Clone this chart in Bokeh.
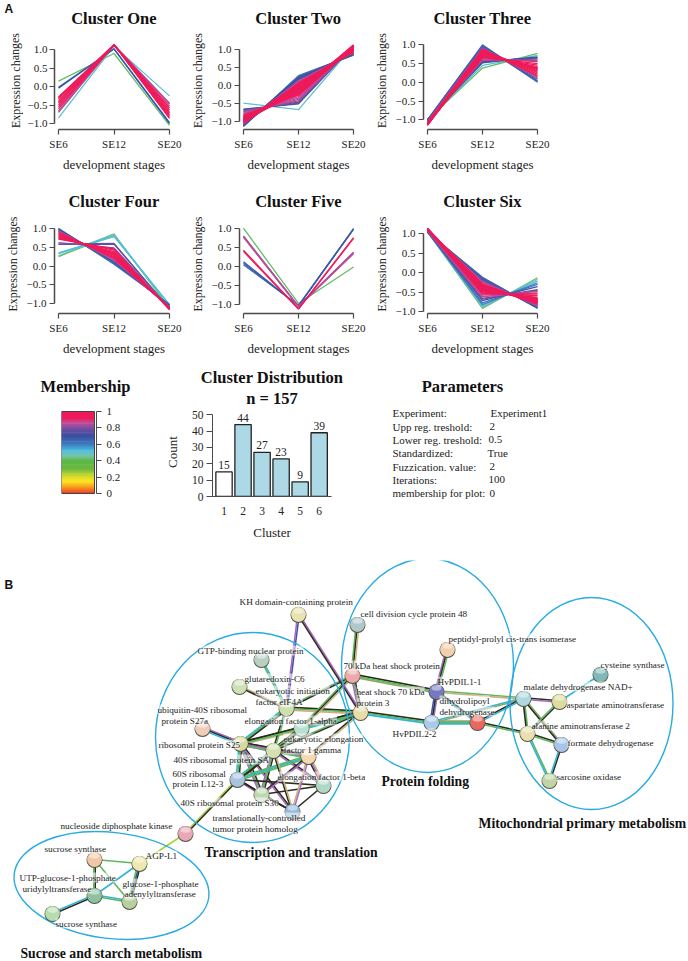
from bokeh.plotting import figure
from bokeh.layouts import column, row
from bokeh.models import (Range1d, FixedTicker, LinearAxis, Label, LabelSet, ColumnDataSource, Title)
from bokeh.embed import file_html
from bokeh.resources import INLINE
from bokeh.core.properties import value
import math

SERIF = "Liberation Serif"
SANS = "Liberation Sans"

stages = ["SE6", "SE12", "SE20"]
y_ticks = [-1.0, -0.5, 0.0, 0.5, 1.0]
y_tick_labels = ["\u22121.0", "\u22120.5", "0.0", "0.5", "1.0"]

# membership, SE6, SE12, SE20
cluster_one = [
 (.42,.15,.90,-1.05),(.50,-.85,1.10,-.25),(.66,-.02,1.02,-1.00),(.68,-.04,1.03,-.98),(.82,-.70,1.13,-.45),
 (.86,-.66,1.13,-.47),(.90,-.60,1.13,-.53),(.92,-.55,1.13,-.58),(.95,-.50,1.13,-.63),(.97,-.45,1.14,-.68),
 (.98,-.42,1.14,-.72),(.99,-.38,1.14,-.76),(.99,-.33,1.14,-.80),(.96,-.30,1.14,-.84),(.93,-.28,1.14,-.86)]
cluster_two = [
 (.50,-.48,-.66,1.12),(.62,-1.13,.28,.85),(.64,-1.12,.26,.86),(.66,-1.11,.24,.87),(.68,-1.10,.22,.88),
 (.70,-1.09,.20,.89),(.72,-1.08,.18,.90),(.70,-.65,-.50,1.12),(.75,-.66,-.48,1.12),(.78,-.70,-.45,1.13),
 (.80,-1.07,.15,.92),(.82,-.72,-.42,1.12),(.84,-.75,-.38,1.12),(.85,-1.05,.12,.93),(.86,-.78,-.34,1.12),
 (.87,-1.04,.10,.94),(.88,-.80,-.30,1.10),(.89,-1.03,.08,.95),(.90,-.82,-.26,1.08),(.91,-.84,-.22,1.06),
 (.92,-1.02,.05,.97),(.93,-.85,-.19,1.04),(.94,-.87,-.17,1.04),(.95,-1.01,.02,.99),(.95,-.88,-.15,1.03),
 (.96,-.89,-.13,1.02),(.96,-1.00,.00,1.00),(.97,-.90,-.12,1.02),(.97,-.99,-.02,1.01),(.97,-.91,-.10,1.01),
 (.98,-.92,-.09,1.01),(.98,-.97,-.04,1.01),(.98,-.93,-.08,1.01),(.98,-.96,-.05,1.01),(.99,-.94,-.07,1.01),
 (.99,-.95,-.06,1.01),(.94,-1.00,.06,.94),(.93,-.83,-.24,1.07),(.96,-1.02,-.01,1.03),(.97,-.98,-.16,1.14),
 (.98,-.94,-.18,1.12),(.99,-1.03,-.03,1.06),(.99,-1.00,-.10,1.10),(.99,-.96,-.14,1.10)]
cluster_three = [
 (.42,-1.00,.38,.77),(.50,-1.00,.45,.72),(.62,-1.00,1.00,.00),(.64,-1.00,.98,.02),(.66,-1.01,.96,.04),
 (.68,-1.00,.52,.68),(.70,-1.02,.54,.66),(.72,-1.01,.56,.65),(.75,-1.03,.93,.08),(.78,-1.04,.58,.62),
 (.82,-1.05,.91,.12),(.85,-1.05,.60,.58),(.88,-1.06,.90,.15),(.90,-1.07,.63,.55),(.92,-1.08,.88,.18),
 (.93,-1.08,.66,.50),(.94,-1.09,.86,.22),(.95,-1.10,.68,.46),(.96,-1.10,.84,.26),(.96,-1.11,.70,.42),
 (.97,-1.12,.82,.30),(.97,-1.12,.72,.38),(.98,-1.13,.80,.34),(.98,-1.13,.74,.38),(.99,-1.14,.78,.36),
 (.99,-1.14,.76,.38),(.99,-1.15,.85,.30)]
cluster_four = [
 (.42,.25,.83,-1.10),(.45,.27,.85,-1.12),(.50,.33,.78,-1.03),(.52,.35,.80,-1.02),(.75,.57,.58,-1.12),
 (.78,.58,.60,-1.14),(.80,.62,.48,-1.10),(.62,1.00,.05,-1.02),(.64,.98,.07,-1.03),(.66,.97,.10,-1.04),
 (.70,.96,.12,-1.06),(.85,.93,.15,-1.08),(.88,.92,.18,-1.09),(.90,.90,.20,-1.10),(.92,.88,.22,-1.10),
 (.94,.86,.25,-1.11),(.95,.84,.28,-1.12),(.96,.82,.30,-1.12),(.97,.80,.33,-1.13),(.98,.78,.35,-1.13),
 (.98,.75,.38,-1.13),(.99,.73,.42,-1.15),(.99,.71,.45,-1.16)]
cluster_five = [
 (.42,1.00,-.98,-.02),(.82,.80,-1.05,.37),(.84,.78,-1.06,.35),(.86,.76,-1.07,.33),(.98,.42,-1.12,.75),
 (.99,.39,-1.13,.73),(.68,.12,-1.05,.98),(.66,.08,-1.04,.97),(.64,.04,-1.03,.99)]
cluster_six = [
 (.42,1.05,-.92,-.13),(.48,1.05,-.88,-.17),(.52,1.06,-.85,-.21),(.60,1.05,-.82,-.26),(.62,1.05,-.78,-.30),
 (.64,1.04,-.12,-.92),(.65,1.04,-.14,-.91),(.66,1.05,-.16,-.90),(.68,1.05,-.18,-.89),(.72,1.06,-.72,-.36),
 (.74,1.06,-.68,-.44),(.78,1.07,-.20,-.87),(.80,1.07,-.66,-.46),(.82,1.08,-.23,-.85),(.85,1.08,-.62,-.48),
 (.86,1.09,-.25,-.84),(.88,1.09,-.58,-.52),(.90,1.10,-.28,-.82),(.90,1.10,-.55,-.54),(.91,1.10,-.30,-.80),
 (.92,1.11,-.53,-.58),(.93,1.11,-.32,-.78),(.94,1.11,-.50,-.60),(.95,1.12,-.34,-.77),(.95,1.12,-.48,-.64),
 (.96,1.12,-.36,-.76),(.96,1.12,-.46,-.66),(.97,1.12,-.38,-.74),(.97,1.13,-.44,-.68),(.97,1.13,-.40,-.73),
 (.98,1.13,-.42,-.71),(.98,1.13,-.41,-.72),(.98,1.13,-.39,-.74),(.98,1.13,-.37,-.76),(.99,1.13,-.35,-.78),
 (.99,1.13,-.45,-.68),(.99,1.13,-.43,-.70),(.99,1.14,-.33,-.81),(.99,1.14,-.47,-.67)]

cluster_names = ["Cluster One", "Cluster Two", "Cluster Three", "Cluster Four", "Cluster Five", "Cluster Six"]
cluster_ids = [1, 2, 3, 4, 5, 6]
cluster_counts = [15, 44, 27, 23, 9, 39]

colormap_stops = [0, .07, .15, .22, .3, .4, .46, .52, .6, .7, .78, .86, .92, 1]
colormap_cols = ["#ee3024", "#f7941e", "#ffe620", "#c8d830", "#6cb83f", "#5ab848", "#7cc4a8", "#4cc0e0",
                 "#3d7cc0", "#3b4fa0", "#6b4ea0", "#c04e9a", "#ee1a5a", "#ee1a5a"]
membership_ticks = [0, .2, .4, .6, .8, 1]
membership_labels = ["0", "0.2", "0.4", "0.6", "0.8", "1"]

param_names = ["Experiment:", "Upp reg. treshold:", "Lower reg. treshold:", "Standardized:",
               "Fuzzication. value:", "Iterations:", "membership for plot:"]
param_values = ["Experiment1", "2", "0.5", "True", "2", "100", "0"]

node_names = ["KH","CDC","GTP","GRX","HSP70","HSP3","EIF","S27","S25","EF1A","SA","EF1G","L12","S30","EF1B","TCTP",
              "NDK","AGP","SS1","UTP","GPA","SS2","PPI","PDI1","PDI2","DLD","MDH","AST","CYS","ALT","FDH","SOX"]
node_x = [298,357,261,239,352,360,286,202,240,301,273,308,237,261,323,292,185,139,94,94,129,52,447,436,431,477,523,559,600,527,561,549]
node_y = [614,624,659,686,675,712,708,728,743,728,750,756,779,794,785,811,833,863,859,895,901,913,649,691,722,722,698,701,674,733,744,780]
node_colors = ["#e8e3b0","#b0c8cc","#b8d0c0","#cfe0b8","#eeaaaa","#e8dca8","#cfe0b0","#f0cdb8","#d8d8a0","#b8e0d0","#d4e0b0","#f4d8b0",
               "#a8c4e0","#c0d8b0","#b0d8c8","#90b8d8","#e8a8b8","#ece8b0","#f0c8a8","#8fc0a0","#b8d0a0","#b8dcb0","#f0d0b0","#7878c0",
               "#a8cce8","#e86860","#b0d8e0","#dcdca0","#80b8b8","#e8e0b0","#a8c4e8","#c0d4a8"]
edges = [("S27","S25","pkc"),("S25","EIF","cgk"),("S25","EF1A","kgt"),("S25","SA","kgp"),("S25","EF1G","kpg"),("S25","L12","kgc"),
 ("S25","S30","kgp"),("S25","TCTP","kp"),("SA","EF1A","kgp"),("SA","L12","kgc"),("SA","S30","kgp"),("SA","EIF","kg"),("SA","EF1G","kpg"),
 ("SA","EF1B","kp"),("L12","EF1G","gcg"),("L12","EF1A","gk"),("L12","S30","kp"),("L12","EF1B","k"),("L12","TCTP","k"),("S30","TCTP","k"),
 ("S30","EF1G","kp"),("S30","EF1B","k"),("EF1B","EF1G","kpt"),("EF1G","TCTP","pt"),("EF1B","TCTP","k"),("TCTP","SA","kt"),("GRX","EIF","tk"),
 ("GTP","EIF","cg"),("EIF","HSP3","kgt"),("EF1A","HSP3","kgc"),("EIF","HSP70","gk"),("EF1A","HSP70","gkt"),("S25","HSP3","kg"),("EF1G","HSP3","kt"),
 ("SA","HSP3","gk"),("KH","EIF","bp"),("KH","HSP3","pk"),("HSP70","HSP3","kgp"),("HSP70","CDC","gkt"),("HSP70","PDI1","kgo"),("HSP3","PDI2","kgc"),
 ("PDI1","PDI2","pkb"),("PDI1","PPI","pkg"),("PDI2","DLD","ogc"),("PDI1","DLD","kc"),("PDI1","MDH","gt"),("PDI2","MDH","co"),("DLD","ALT","kg"),
 ("DLD","MDH","kc"),("MDH","AST","kp"),("MDH","ALT","gk"),("MDH","FDH","ok"),("AST","ALT","kg"),("AST","CYS","c"),("ALT","FDH","kg"),
 ("ALT","SOX","gc"),("FDH","SOX","kc"),("SS1","AGP","g"),("SS1","UTP","kg"),("SS1","GPA","g"),("AGP","UTP","c"),("AGP","GPA","kbg"),
 ("UTP","GPA","cg"),("UTP","SS2","kc"),("NDK","L12","yk"),("NDK","AGP","y")]
edge_cols = {"k":"#2b2b1e","g":"#5cb85c","p":"#a868c0","c":"#35b4d8","t":"#c8b080","o":"#88aa66","b":"#3a55b0","y":"#a8d040"}

label_text = ["KH domain-containing protein","GTP-binding nuclear protein","glutaredoxin-C6","eukaryotic initiation","factor eIF4A",
 "ubiquitin-40S ribosomal","protein S27a","elongation factor 1-alpha","eukaryotic elongation","factor 1 gamma","ribosomal protein S25",
 "40S ribosomal protein SA","60S ribosomal","protein L12-3","elongation factor 1-beta","40S ribosomal protein S30","translationally-controlled",
 "tumor protein homolog","nucleoside diphosphate kinase","AGP-L1","sucrose synthase","UTP-glucose-1-phosphate","uridylyltransferase",
 "glucose-1-phosphate","adenylyltransferase","sucrose synthase","cell division cycle protein 48","peptidyl-prolyl cis-trans isomerase",
 "70 kDa heat shock protein","HvPDIL1-1","heat shock 70 kDa","protein 3","dihydrolipoyl","dehydrogenase","HvPDIL2-2","malate dehydrogenase NAD+",
 "cysteine synthase","aspartate aminotransferase","alanine aminotransferase 2","formate dehydrogenase","sarcosine oxidase"]
label_x = [239,197,244,255,255,157,161,244,283,283,158,173,172,172,277,180,212,212,60,145,44,19,22,122,124,55,360,448,343,437,356,356,439,439,392,523,600,566,531,567,556]
label_y = [601,650,678,690,701,709,720,720,738,749,744,759,773,783,776,802,817,828,825,855,848,877,888,883,893,923,613,638,665,681,691,702,700,711,733,686,664,704,725,742,776]

group_text = ["Transcription and translation","Protein folding","Mitochondrial primary metabolism","Sucrose and starch metabolism"]
group_x = [204,381,478,20]
group_y = [852,781,823,953]

ell_x = [252,427,591,111]
ell_y = [737,665,703,885]
ell_w = [194,172,163,196]
ell_h = [210,214,212,106]
ell_rot = [0,0,0,-0.12]


def hex2rgb(h):
    return tuple(int(h[i:i + 2], 16) for i in (1, 3, 5))


def cmap(v):
    v = max(0, min(1, v))
    for i in range(len(colormap_stops) - 1):
        a, b = colormap_stops[i], colormap_stops[i + 1]
        if v <= b:
            t = (v - a) / (b - a)
            ca, cb = hex2rgb(colormap_cols[i]), hex2rgb(colormap_cols[i + 1])
            return "#%02x%02x%02x" % tuple(round(ca[k] + (cb[k] - ca[k]) * t) for k in range(3))
    return colormap_cols[-1]


def mk(width, height, left, right, top, bottom, xr, yr):
    p = figure(width=width, height=height, output_backend="svg", toolbar_location=None,
               x_range=Range1d(*xr), y_range=Range1d(*yr), min_border_left=left, min_border_right=right,
               min_border_top=top, min_border_bottom=bottom, outline_line_color=None,
               background_fill_color="white", border_fill_color="white")
    p.grid.visible = False
    return p


def style(ax):
    ax.axis_line_color = "#4a4a4a"
    ax.major_tick_line_color = "#4a4a4a"
    ax.minor_tick_line_color = None
    ax.axis_line_width = 1.5
    ax.major_tick_line_width = 1.2
    ax.major_tick_in = 0
    ax.major_tick_out = 5
    ax.major_label_text_font = SERIF
    ax.major_label_text_color = "#222222"
    ax.axis_label_text_font = SERIF
    ax.axis_label_text_font_style = "normal"
    ax.axis_label_text_color = "#222222"


def head(t, text, font=SERIF, size="16.5px"):
    t.text = text
    t.text_font = font
    t.text_font_size = size
    t.text_font_style = "bold"
    t.text_color = "#111111"


def cluster_panel(rows, name, width, left, right, top_ref, bottom_ref, y1, ym1, box_top, box_bottom, ylabel=True):
    xscale = 55.5
    ys = (ym1 - y1) / 2
    xr = (1 - 4 / xscale, 3 + 4 / xscale)
    yr = (-1 - (bottom_ref - ym1) / ys, 1 + (y1 - top_ref) / ys)
    p = mk(width, box_bottom - box_top, left, right, top_ref - box_top, box_bottom - bottom_ref, xr, yr)
    for m, a, b, c in sorted(rows, key=lambda r: r[0]):
        p.line([1, 2, 3], [a, b, c], line_color=cmap(m), line_width=1.3)
    head(p.title, name)
    p.title.align = "center"
    p.title.standoff = 8
    xa, ya = p.xaxis[0], p.yaxis[0]
    style(xa); style(ya)
    xa.ticker = FixedTicker(ticks=[1, 2, 3])
    xa.major_label_overrides = {i + 1: s for i, s in enumerate(stages)}
    xa.bounds = (1, 3)
    xa.major_label_text_font_size = "11px"
    xa.major_label_standoff = 3
    xa.axis_label = "development stages"
    xa.axis_label_text_font_size = "13px"
    xa.axis_label_standoff = 4
    ya.ticker = FixedTicker(ticks=y_ticks)
    ya.major_label_overrides = dict(zip(y_ticks, y_tick_labels))
    ya.bounds = (-1, 1)
    ya.major_label_text_font_size = "11px"
    ya.major_label_standoff = 3 if ylabel else 2
    if ylabel:
        ya.axis_label = "Expression changes"
        ya.axis_label_text_font_size = "12px"
        ya.axis_label_standoff = 4
    return p


# narrow blank panel carrying the panel letter A and the first panel's y label
pa = mk(23, 180, 0, 0, 0, 0, (0, 23), (180, 0))
pa.xaxis.visible = False
pa.yaxis.visible = False
pa.text(x=[4], y=[8], text=["A"], text_font=value(SANS), text_font_style="bold", text_font_size="12px",
        text_baseline="middle", text_color="#111111")
pa.text(x=[15], y=[80], text=["Expression changes"], angle=[math.pi / 2], text_font=value(SERIF), text_font_size="12px",
        text_align="center", text_baseline="middle", text_color="#222222")

p1 = cluster_panel(cluster_one, cluster_names[0], 164, 31, 14, 31, 129, 49.3, 123, 0, 180, ylabel=False)
p2 = cluster_panel(cluster_two, cluster_names[1], 184, 51, 14, 31, 129, 49.3, 121.3, 0, 180)
p3 = cluster_panel(cluster_three, cluster_names[2], 317, 51, 147, 31, 129, 44.3, 119.3, 0, 180)
p4 = cluster_panel(cluster_four, cluster_names[3], 187, 54, 14, 214, 313, 227.7, 303.3, 180, 365)
p5 = cluster_panel(cluster_five, cluster_names[4], 184, 51, 14, 214, 313, 227.7, 303.7, 180, 365)
p6 = cluster_panel(cluster_six, cluster_names[5], 317, 51, 147, 214, 313, 233.3, 311, 180, 365)

# Membership heading, in a strip of its own above the key
pmh = mk(150, 40, 0, 0, 0, 0, (0, 150), (405, 365))
pmh.xaxis.visible = False
pmh.yaxis.visible = False
pmh.text(x=[85], y=[385.7], text=["Membership"], text_font=value(SERIF), text_font_style="bold",
         text_font_size="16.5px", text_align="center", text_baseline="middle", text_color="#111111")

# Membership key
pm = mk(150, 155, 61, 54, 0, 64, (0, 35), (-(496 - 493) / 82, 1 + (411 - 405) / 82))
levels = 100
pm.quad(left=0, right=33, bottom=[i / levels for i in range(levels)],
        top=[min(1, (i + 1.8) / levels) for i in range(levels)],
        fill_color=[cmap((i + .5) / levels) for i in range(levels)], line_color=None)
pm.quad(left=[0], right=[33], bottom=[0], top=[1], fill_color=None, line_color="#444444", line_width=1)
pm.xaxis.visible = False
pm.yaxis.visible = False
ra = LinearAxis(ticker=FixedTicker(ticks=membership_ticks),
                major_label_overrides=dict(zip(membership_ticks, membership_labels)), bounds=(0, 1))
style(ra)
ra.axis_line_width = 1
ra.major_label_text_font_size = "11px"
ra.major_label_standoff = 5
pm.add_layout(ra, "right")

# Cluster distribution
ybar = (496.3 - 412.7) / 50
pb = mk(224, 195, 62, 43, 40, 64, (1 - 11.5 / 19, 6 + 12.3 / 19), (0, (496 - 405) / ybar))
bar_fill = ["white"] + ["#add8e6"] * 5
pb.vbar(x=cluster_ids, top=cluster_counts, width=.858, fill_color=bar_fill, line_color="#222222", line_width=1.3)
pb.text(x=cluster_ids, y=cluster_counts, text=[str(c) for c in cluster_counts], text_font=value(SERIF),
        text_font_size="11.5px", text_align="center", text_baseline="bottom", y_offset=-3, text_color="#222222")
xa, ya = pb.xaxis[0], pb.yaxis[0]
style(xa); style(ya)
xa.axis_line_width = 1
ya.axis_line_width = 1
xa.ticker = FixedTicker(ticks=cluster_ids)
xa.major_tick_out = 0
xa.major_tick_line_color = None
xa.major_label_text_font_size = "11.5px"
xa.major_label_standoff = 10
xa.axis_label = "Cluster"
xa.axis_label_text_font_size = "13px"
xa.axis_label_standoff = 7
ya.ticker = FixedTicker(ticks=[0, 10, 20, 30, 40, 50])
ya.bounds = (0, 50)
ya.major_label_text_font_size = "11.5px"
ya.major_label_standoff = 3
ya.major_tick_out = 6
ya.axis_label = "Count"
ya.axis_label_text_font_size = "13px"
ya.axis_label_standoff = 9
head(pb.title, "Cluster Distribution")
pb.title.align = "center"
pb.title.standoff = 0
t2 = Title()
head(t2, "n = 157")
t2.align = "center"
t2.standoff = 0
pb.add_layout(t2, "above")

# Parameters
pp = mk(314, 195, 0, 0, 0, 0, (374, 688), (560, 365))
pp.xaxis.visible = False
pp.yaxis.visible = False
pp.text(x=[462], y=[385.7], text=["Parameters"], text_font=value(SERIF), text_font_style="bold", text_font_size="16.5px",
        text_align="center", text_baseline="middle", text_color="#111111")
row_y = [412.7, 426, 439.3, 452.7, 466, 479.3, 492.7]
pp.text(x=[392] * 7, y=row_y, text=param_names, text_font=value(SERIF), text_font_size="11px", text_baseline="middle", text_color="#222222")
pp.text(x=[490, 489, 488, 487, 489, 488, 489], y=row_y, text=param_values, text_font=value(SERIF), text_font_size="11px",
        text_baseline="middle", text_color="#222222")

# Network
pn = mk(688, 401, 0, 0, 0, 0, (0, 688), (961, 560))
pn.xaxis.visible = False
pn.yaxis.visible = False
pos = {n: (x, y) for n, x, y in zip(node_names, node_x, node_y)}
xs, ys, cs = [], [], []
for a, b, code in edges:
    (x0, y0), (x1, y1) = pos[a], pos[b]
    d = math.hypot(x1 - x0, y1 - y0)
    nx, ny = -(y1 - y0) / d, (x1 - x0) / d
    for i, ch in enumerate(code):
        o = (i - (len(code) - 1) / 2) * 1.4
        xs.append([x0 + nx * o, x1 + nx * o])
        ys.append([y0 + ny * o, y1 + ny * o])
        cs.append(edge_cols[ch])
pn.multi_line(xs, ys, line_color=cs, line_width=1.6)
pn.ellipse(x=ell_x, y=ell_y, width=ell_w, height=ell_h, angle=ell_rot, fill_color=None, line_color="#29abe2", line_width=1.4)
pn.circle(x=node_x, y=[v + .5 for v in node_y], radius=8, fill_color="#555544", line_color=None)
pn.circle(x=node_x, y=node_y, radius=7.4, fill_color=node_colors, line_color=None)
pn.ellipse(x=node_x, y=[v - 3.5 for v in node_y], width=10, height=5.5, fill_color="white", fill_alpha=.45, line_color=None)
src = ColumnDataSource(dict(x=label_x, y=label_y, t=label_text))
pn.add_layout(LabelSet(x="x", y="y", text="t", source=src, text_font=value(SERIF), text_font_size="9.2px", text_baseline="middle",
                       text_color="#222222", background_fill_color="white", background_fill_alpha=.55))
pn.text(x=group_x, y=group_y, text=group_text, text_font=value(SERIF), text_font_style="bold", text_font_size="13.7px",
        text_baseline="middle", text_color="#111111")
pn.add_layout(Label(x=4, y=584, text="B", text_font=SANS, text_font_style="bold", text_font_size="12px",
                    text_baseline="middle", text_color="#111111"))

layout = column(row(column(pa), p1, p2, p3, spacing=0), row(p4, p5, p6, spacing=0),
                row(column(row(pmh), row(pm), spacing=0), pb, column(pp), spacing=0), pn, spacing=0)
open("out.html", "w").write(file_html(layout, INLINE))
